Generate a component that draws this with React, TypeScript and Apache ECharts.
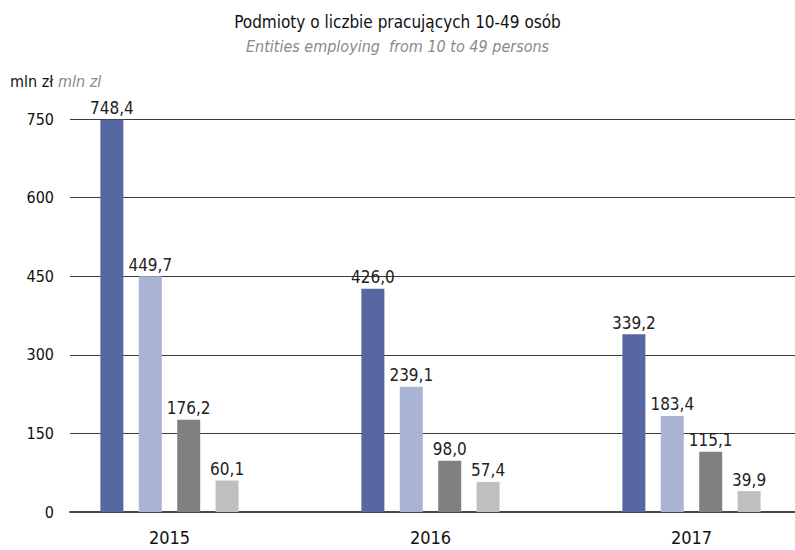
import React, { useEffect, useRef } from "react";
import * as echarts from "echarts";

const categories = ["2015", "2016", "2017"];
const series1 = [748.4, 426.0, 339.2];
const series2 = [449.7, 239.1, 183.4];
const series3 = [176.2, 98.0, 115.1];
const series4 = [60.1, 57.4, 39.9];
const seriesNames = ["A", "B", "C", "D"];
const colors = ["#5667a1", "#a9b3d4", "#808080", "#bfbfbf"];
const yTicks = [0, 150, 300, 450, 600, 750];

const FONT = "'Liberation Sans Narrow', 'DejaVu Sans Condensed', 'Noto Sans', sans-serif";

export default function App() {
  const ref = useRef<HTMLDivElement>(null);
  useEffect(() => {
    if (!ref.current) return;
    const chart = echarts.init(ref.current, undefined, { renderer: "svg" });
    const data = [series1, series2, series3, series4];
    const fmt = (v: number) => v.toFixed(1).replace(".", ",");
    chart.setOption({
      animation: false,
      textStyle: { fontFamily: FONT },
      title: [
        {
          text: "Podmioty o liczbie pracujących 10-49 osób",
          left: "center",
          top: 8,
          textStyle: { fontFamily: FONT, fontSize: 17, fontWeight: "normal", color: "#111" },
        },
        {
          text: "Entities employing  from 10 to 49 persons",
          left: "center",
          top: 33,
          textStyle: { fontFamily: FONT, fontSize: 16, fontWeight: "normal", fontStyle: "italic", color: "#8a8a8a" },
        },
      ],
      graphic: [
        {
          type: "text",
          left: 10,
          top: 73,
          style: { text: "mln zł", font: `16px ${FONT}`, fill: "#111" },
        },
        {
          type: "text",
          left: 58,
          top: 73,
          style: { text: "mln zl", font: `italic 16px ${FONT}`, fill: "#8a8a8a" },
        },
      ],
      grid: [
        { left: 39, width: 783, top: 119, bottom: 38, containLabel: false, outerBoundsMode: "none" },
        { left: 70, right: 0, top: 119, bottom: 38, containLabel: false, outerBoundsMode: "none" },
      ],
      xAxis: [
        {
          type: "category",
          gridIndex: 0,
          data: categories,
          axisLine: { show: false },
          axisTick: { show: false },
          axisLabel: { fontFamily: FONT, fontSize: 18, color: "#111", margin: 16 },
        },
        {
          type: "category",
          gridIndex: 1,
          data: categories,
          axisLine: { show: true, lineStyle: { color: "#4a4a4a", width: 2 } },
          axisTick: { show: false },
          axisLabel: { show: false },
        },
      ],
      yAxis: [
        {
          type: "value",
          gridIndex: 0,
          min: 0,
          max: 750,
          interval: 150,
          show: false,
          splitLine: { show: false },
        },
        {
          type: "value",
          gridIndex: 1,
          min: yTicks[0],
          max: yTicks[yTicks.length - 1],
          interval: 150,
          axisLine: { show: false },
          axisTick: { show: false },
          axisLabel: { fontFamily: FONT, fontSize: 16, color: "#111", margin: 16 },
          splitLine: { show: true, lineStyle: { color: "#3a3a3a", width: 1.2 } },
        },
      ],
      series: data.map((d, i) => ({
        name: seriesNames[i],
        type: "bar",
        xAxisIndex: 0,
        yAxisIndex: 0,
        data: d,
        barWidth: 23,
        barGap: "67%",
        itemStyle: { color: colors[i] },
        label: {
          show: true,
          position: "top",
          distance: 3,
          fontFamily: FONT,
          fontSize: 17,
          color: "#222",
          formatter: (p: any) => fmt(p.value),
        },
        z: 3,
      })),
    });
    return () => chart.dispose();
  }, []);
  return (
    <div
      ref={ref}
      style={{ position: "fixed", left: 0, top: 0, width: 795, height: 550, background: "#fff" }}
    />
  );
}
